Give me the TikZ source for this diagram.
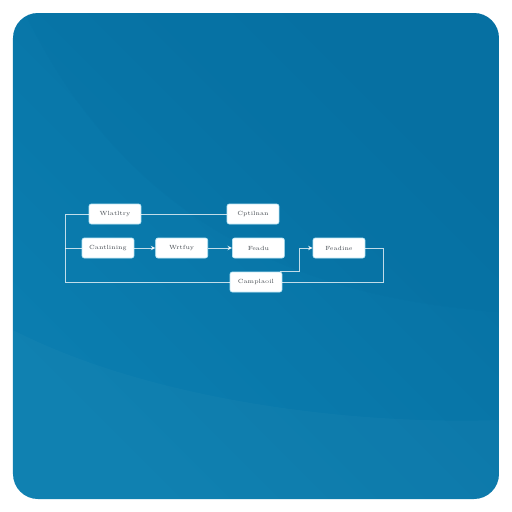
\documentclass[tikz,border=0pt]{standalone}
\usetikzlibrary{positioning,arrows.meta}
\definecolor{panellight}{RGB}{11,126,176}
\definecolor{paneldark}{RGB}{6,112,162}
\definecolor{boxedge}{RGB}{190,232,246}
\definecolor{textgray}{RGB}{70,76,82}
\tikzset{
  stepbox/.style={draw=boxedge, fill=white, rounded corners=1.3pt, line width=0.4pt,
    minimum width=1.04cm, minimum height=0.4cm, inner sep=0pt,
    font=\fontsize{3.4}{4}\selectfont, text=textgray},
  link/.style={draw=white, line width=0.55pt, draw opacity=0.75},
  flow/.style={link, -{Stealth[length=2.6pt,width=2.6pt]}}
}
\begin{document}
\begin{tikzpicture}[x=0.02cm, y=-0.02cm, node distance=0.28cm and 0.42cm]
    % page and panel
    \fill[white] (0,0) rectangle (512,512);
    \useasboundingbox (0,0) rectangle (512,512);
    \shade[rounded corners=0.5cm, top color=paneldark, bottom color=panellight, shading angle=-45]
      (13,13) rectangle (499,499);
    \begin{scope}
      \clip[rounded corners=0.5cm] (13,13) rectangle (499,499);
      \fill[paneldark, opacity=0.25] (25,13) .. controls (140,250) and (340,300) .. (499,312) -- (499,13) -- cycle;
      \fill[white, opacity=0.025] (13,330) .. controls (150,400) and (350,425) .. (499,420) -- (499,499) -- (13,499) -- cycle;
    \end{scope}

    % middle row
    \node[stepbox] (cant) at (108,248) {Cantlining};
    \node[stepbox, right=of cant] (wrtf) {Wrtfuy};
    \node[stepbox, right=0.48cm of wrtf] (fead) {Feadu};
    \node[stepbox] (fdin) at (339,248) {Feadine};
    % top row and bottom box
    \node[stepbox] (wlat) at (115,214) {Wlatltry};
    \node[stepbox] (cpti) at (253,214) {Cptilnan};
    \node[stepbox] (comp) at (256,282) {Camplaoil};

    \coordinate (lt) at (65,214);
    \coordinate (lm) at (65,248);
    \coordinate (lb) at (65,282);
    \coordinate (cr) at (383,248);
    \coordinate (cb) at (383,282);
    \coordinate (j0) at (280,271);
    \coordinate (j1) at (299,271);
    \coordinate (j2) at (299,248);

    \draw[link] (wlat.west) -- (lt) -- (lb) -- (comp.west);
    \draw[link] (lm) -- (cant.west);
    \draw[link] (wlat.east) -- (cpti.west);
    \draw[flow] (cant) -- (wrtf);
    \draw[flow] (wrtf) -- (fead);
    \draw[flow] (j0) -- (j1) -- (j2) -- (fdin.west);
    \draw[link] (fdin.east) -- (cr) -- (cb) -- (comp.east);
\end{tikzpicture}
\end{document}
